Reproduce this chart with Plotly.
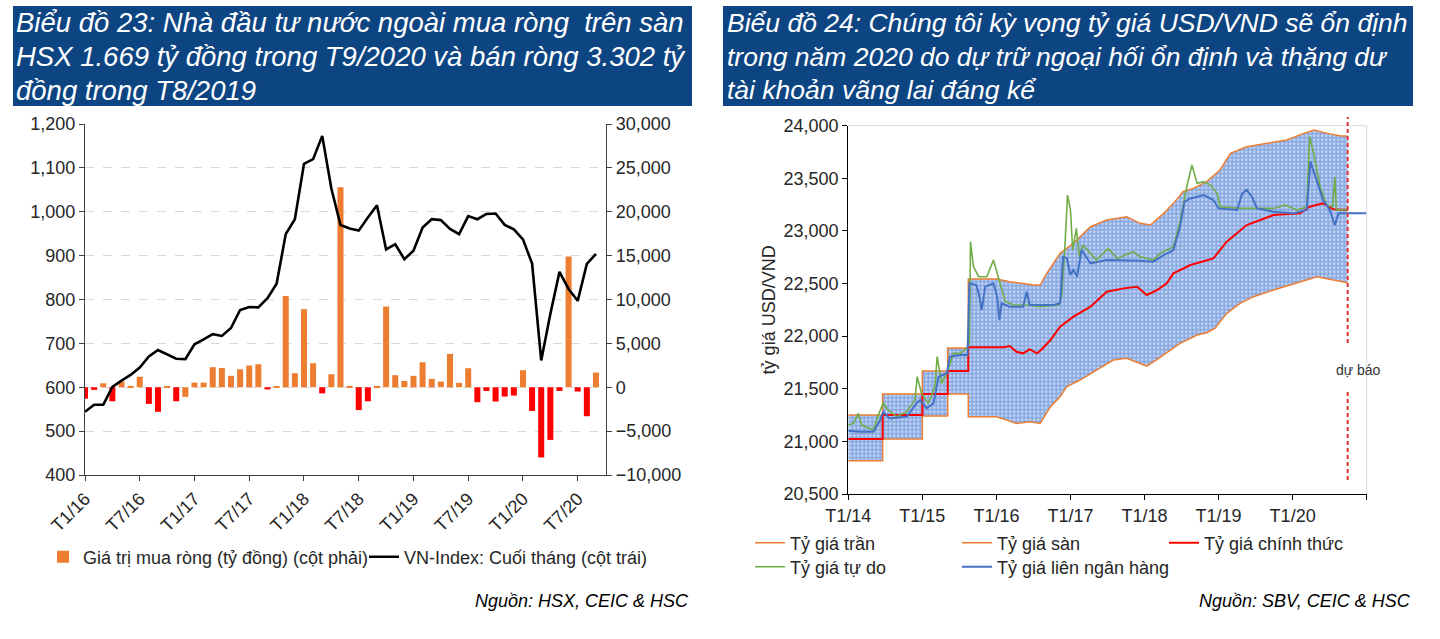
import plotly.graph_objects as go

W, H = 1440, 639

# ---------------- Chart 23 data (monthly, T1/16 .. T9/20) ----------------
tick_labels_23 = ['T1/16', 'T7/16', 'T1/17', 'T7/17', 'T1/18', 'T7/18',
                  'T1/19', 'T7/19', 'T1/20', 'T7/20']
net_buy = [-1300, -300, 450, -1600, 650, 150, 1200, -1900, -2800, 50, -1600, -1100,
           530, 530, 2280, 2200, 1300, 2050, 2470, 2620, -250, 100, 10400, 1600,
           8900, 2740, -700, 1480, 22800, 150, -2600, -1600, 150, 9200, 1370, 720,
           1300, 2850, 950, 650, 3800, 500, 2170, -1700, -420, -1630, -1060, -950,
           1940, -2700, -8000, -6000, -420, 14900, -490, -3302, 1669]
vn_index = [544, 560, 560, 601, 615, 628, 645, 670, 685, 675, 665, 664,
            698, 709, 721, 717, 735, 776, 783, 782, 803, 836, 949, 983,
            1109, 1120, 1173, 1053, 970, 962, 957, 987, 1015, 914, 926, 892,
            911, 964, 983, 981, 961, 949, 990, 983, 995, 996, 970, 960,
            937, 882, 661, 767, 863, 824, 797, 881, 904]
orange_negative_idx = [11]

# ---------------- Chart 24 data (decimal years) ----------------
year_ticks = [2014, 2015, 2016, 2017, 2018, 2019, 2020, 2021]
year_labels = ['T1/14', 'T1/15', 'T1/16', 'T1/17', 'T1/18', 'T1/19', 'T1/20', '']
forecast_x = 2020.743

tran_x = [2014.0, 2014.464, 2014.464, 2015.0, 2015.0, 2015.342, 2015.342, 2015.62, 2015.62, 2016.0,
          2016.18, 2016.32, 2016.5, 2016.59, 2016.68, 2016.86, 2017.04, 2017.27, 2017.49, 2017.76,
          2017.94, 2018.08, 2018.26, 2018.39, 2018.52, 2018.66, 2018.84, 2019.02, 2019.16, 2019.38,
          2019.65, 2019.92, 2020.15, 2020.29, 2020.47, 2020.65, 2020.743]
tran_y = [21250, 21250, 21450, 21450, 21669, 21669, 21887, 21887, 22543, 22543,
          22518, 22502, 22486, 22486, 22597, 22787, 22882, 23040, 23104, 23135,
          23072, 23056, 23167, 23262, 23373, 23404, 23468, 23579, 23737, 23800,
          23832, 23864, 23927, 23959, 23927, 23902, 23902]

san_x = [2014.0, 2014.464, 2014.464, 2015.0, 2015.0, 2015.342, 2015.342, 2015.62, 2015.62, 2016.0,
         2016.14, 2016.27, 2016.45, 2016.59, 2016.73, 2016.86, 2016.95, 2017.13, 2017.35, 2017.58,
         2017.76, 2017.94, 2018.03, 2018.17, 2018.35, 2018.48, 2018.71, 2018.84, 2018.95, 2019.11,
         2019.29, 2019.47, 2019.74, 2020.05, 2020.33, 2020.55, 2020.743]
san_y = [20816, 20816, 21022, 21022, 21241, 21241, 21450, 21450, 21234, 21234,
         21202, 21171, 21187, 21171, 21330, 21425, 21520, 21583, 21678, 21773,
         21789, 21741, 21716, 21780, 21868, 21932, 22011, 22033, 22074, 22217,
         22312, 22375, 22438, 22502, 22565, 22533, 22508]

chinh_x = [2014.0, 2014.464, 2014.464, 2015.0, 2015.0, 2015.342, 2015.342, 2015.62, 2015.62, 2016.0,
           2016.1, 2016.18, 2016.27, 2016.36, 2016.45, 2016.55, 2016.61, 2016.73, 2016.86, 2017.04,
           2017.27, 2017.49, 2017.72, 2017.90, 2018.03, 2018.17, 2018.30, 2018.39, 2018.62, 2018.93,
           2019.11, 2019.38, 2019.74, 2020.10, 2020.23, 2020.41, 2020.55, 2020.743]
chinh_y = [21022, 21022, 21250, 21250, 21450, 21450, 21669, 21669, 21894, 21894,
           21894, 21906, 21852, 21837, 21874, 21837, 21874, 21963, 22090, 22185,
           22280, 22423, 22454, 22470, 22391, 22438, 22502, 22597, 22676, 22739,
           22898, 23056, 23151, 23167, 23230, 23262, 23205, 23199]

tudo_x = [2014.0, 2014.07, 2014.135, 2014.18, 2014.34, 2014.405, 2014.47, 2014.54, 2014.65, 2014.79,
          2014.90, 2014.93, 2014.99, 2015.08, 2015.17, 2015.20, 2015.26, 2015.33, 2015.42, 2015.51,
          2015.60, 2015.635, 2015.65, 2015.69, 2015.76, 2015.87, 2015.96, 2016.05, 2016.12, 2016.23,
          2016.41, 2016.59, 2016.84, 2016.88, 2016.92, 2016.96, 2017.00, 2017.03, 2017.08, 2017.12,
          2017.17, 2017.35, 2017.51, 2017.63, 2017.85, 2017.94, 2018.12, 2018.21, 2018.39, 2018.48,
          2018.57, 2018.64, 2018.71, 2018.80, 2018.89, 2018.98, 2019.02, 2019.29, 2019.74, 2019.90,
          2020.06, 2020.19, 2020.23, 2020.28, 2020.37, 2020.46, 2020.54, 2020.57, 2020.59, 2020.743]
tudo_y = [21155, 21171, 21266, 21155, 21108, 21250, 21361, 21298, 21235, 21282,
          21393, 21615, 21456, 21361, 21520, 21805, 21551, 21646, 21836, 21836,
          21884, 21932, 22898, 22660, 22565, 22565, 22723, 22502, 22328, 22296,
          22296, 22280, 22296, 22375, 22787, 23341, 23199, 22818, 23024, 22755,
          22866, 22723, 22834, 22739, 22803, 22755, 22723, 22787, 22850, 23088,
          23420, 23626, 23452, 23468, 23436, 23357, 23230, 23214, 23214, 23246,
          23199, 23230, 23896, 23753, 23420, 23246, 23230, 23515, 23199, 23205]

lnh_x = [2014.0, 2014.16, 2014.34, 2014.43, 2014.47, 2014.56, 2014.79, 2014.92, 2014.97, 2015.06,
         2015.15, 2015.22, 2015.33, 2015.37, 2015.51, 2015.61, 2015.635, 2015.73, 2015.77, 2015.80,
         2015.85, 2015.96, 2016.01, 2016.04, 2016.07, 2016.18, 2016.36, 2016.41, 2016.45, 2016.77,
         2016.86, 2016.90, 2016.95, 2017.00, 2017.04, 2017.09, 2017.15, 2017.27, 2017.49, 2017.72,
         2017.94, 2018.12, 2018.26, 2018.39, 2018.48, 2018.54, 2018.62, 2018.80, 2018.93, 2019.00,
         2019.25, 2019.32, 2019.38, 2019.45, 2019.52, 2019.74, 2020.01, 2020.19, 2020.24, 2020.33,
         2020.41, 2020.50, 2020.57, 2020.62, 2020.73, 2021.0]
lnh_y = [21102, 21092, 21092, 21203, 21282, 21219, 21235, 21361, 21393, 21314,
         21361, 21615, 21646, 21805, 21821, 21821, 22502, 22486, 22375, 22248,
         22470, 22502, 22375, 22153, 22312, 22280, 22280, 22423, 22296, 22296,
         22312, 22755, 22740, 22581, 22628, 22565, 22818, 22692, 22723, 22723,
         22717, 22708, 22771, 22818, 23040, 23278, 23309, 23341, 23294, 23214,
         23199, 23357, 23389, 23325, 23214, 23183, 23167, 23199, 23658, 23468,
         23294, 23199, 23056, 23167, 23167, 23167]

# ---------------- styles ----------------
ORANGE = '#ED7D31'
RED = '#FF0000'
GREEN = '#70AD47'
BLUE = '#4472C4'
NAVY = '#0D4583'
FONT = 'Liberation Sans, Arial, sans-serif'


def px(xp):
    return xp / W


def py(yp):
    return 1 - yp / H


months = list(range(len(net_buy)))
is_orange = [(v >= 0 or i in orange_negative_idx) for i, v in enumerate(net_buy)]
orange_vals = [v if o else None for v, o in zip(net_buy, is_orange)]
red_vals = [None if o else v for v, o in zip(net_buy, is_orange)]

fig = go.Figure()

# Chart 23
fig.add_trace(go.Bar(x=months, y=orange_vals, marker=dict(color=ORANGE, line=dict(width=0)),
                     name='Giá trị mua ròng (tỷ đồng) (cột phải)', xaxis='x', yaxis='y',
                     legend='legend'))
fig.add_trace(go.Bar(x=months, y=red_vals, marker=dict(color=RED, line=dict(width=0)),
                     name='Giá trị mua ròng âm', showlegend=False, xaxis='x', yaxis='y'))
fig.add_trace(go.Scatter(x=months, y=vn_index, mode='lines', line=dict(color='black', width=2.6),
                         name='VN-Index: Cuối tháng (cột trái)', xaxis='x', yaxis='y2',
                         legend='legend'))

# Chart 24 band fill
band_x = tran_x + san_x[::-1]
band_y = tran_y + san_y[::-1]
fig.add_trace(go.Scatter(x=band_x, y=band_y, mode='lines', fill='toself', line=dict(width=0),
                         fillcolor='#9DB8E8',
                         fillpattern=dict(shape='.', fgcolor='#CFDCF4', bgcolor='#88A9E3',
                                          size=4, solidity=0.3, fillmode='replace'),
                         showlegend=False, hoverinfo='skip', xaxis='x2', yaxis='y3'))
fig.add_trace(go.Scatter(x=tran_x, y=tran_y, mode='lines', line=dict(color=ORANGE, width=1.5),
                         name='Tỷ giá trần', xaxis='x2', yaxis='y3', legend='legend2'))
fig.add_trace(go.Scatter(x=san_x, y=san_y, mode='lines', line=dict(color=ORANGE, width=1.5),
                         name='Tỷ giá sàn', xaxis='x2', yaxis='y3', legend='legend2'))
fig.add_trace(go.Scatter(x=chinh_x, y=chinh_y, mode='lines', line=dict(color=RED, width=2),
                         name='Tỷ giá chính thức', xaxis='x2', yaxis='y3', legend='legend2'))
fig.add_trace(go.Scatter(x=tudo_x, y=tudo_y, mode='lines', line=dict(color=GREEN, width=1.6),
                         name='Tỷ giá tự do', xaxis='x2', yaxis='y3', legend='legend3'))
fig.add_trace(go.Scatter(x=lnh_x, y=lnh_y, mode='lines', line=dict(color=BLUE, width=2),
                         name='Tỷ giá liên ngân hàng', xaxis='x2', yaxis='y3', legend='legend4'))

tick_font = dict(family=FONT, size=18, color='#262626')
legend_font = dict(family=FONT, size=18, color='#262626')

fig.update_layout(
    template='none',
    width=W, height=H, margin=dict(l=0, r=0, t=0, b=0, autoexpand=False),
    paper_bgcolor='white', plot_bgcolor='white',
    font=dict(family=FONT, color='#262626'),
    barmode='overlay', bargap=0.34,
    xaxis=dict(domain=[px(85), px(606)], range=[0, 57.1], anchor='y', automargin=False,
               tickvals=[0, 6, 12, 18, 24, 30, 36, 42, 48, 54], ticktext=tick_labels_23,
               tickangle=-45, ticks='outside', ticklen=5, tickcolor='#404040',
               showline=True, linecolor='#404040', linewidth=1.3, showgrid=False,
               zeroline=False, tickfont=tick_font),
    yaxis=dict(domain=[py(475), py(124)], range=[-10000, 30000], side='right', anchor='x',
               automargin=False,
               tickvals=[-10000, -5000, 0, 5000, 10000, 15000, 20000, 25000, 30000],
               tickformat=',', ticks='outside', ticklen=5, tickcolor='#404040',
               showline=True, linecolor='#404040', linewidth=1.3,
               showgrid=True, gridcolor='#D9D9D9', griddash='dash', gridwidth=1,
               zeroline=False, tickfont=tick_font),
    yaxis2=dict(range=[400, 1200], overlaying='y', side='left', anchor='x', automargin=False,
                tickvals=[400, 500, 600, 700, 800, 900, 1000, 1100, 1200], tickformat=',',
                ticks='outside', ticklen=5, tickcolor='#404040',
                showline=True, linecolor='#404040', linewidth=1.3, showgrid=False,
                zeroline=False, tickfont=tick_font),
    xaxis2=dict(domain=[px(848.3), px(1366.7)], range=[2014, 2021], anchor='y3',
                automargin=False,
                tickvals=year_ticks, ticktext=year_labels, tickangle=0,
                ticks='outside', ticklen=5, tickcolor='black',
                showline=True, linecolor='black', linewidth=1.3, showgrid=False,
                zeroline=False, tickfont=tick_font),
    yaxis3=dict(domain=[py(494), py(125.7)], range=[20500, 24000], anchor='x2',
                automargin=False,
                dtick=500, tickformat=',', ticks='outside', ticklen=5, tickcolor='black',
                showline=True, linecolor='black', linewidth=1.3, showgrid=False,
                zeroline=False, tickfont=tick_font,
                title=dict(text='tỷ giá USD/VND', font=dict(family=FONT, size=18, color='#262626'),
                           standoff=3)),
    legend=dict(orientation='h', x=px(43), y=py(557), xanchor='left', yanchor='middle',
                font=legend_font, entrywidth=276, entrywidthmode='pixels',
                bgcolor='rgba(0,0,0,0)', traceorder='normal'),
    legend2=dict(orientation='h', x=px(750), y=py(543), xanchor='left', yanchor='middle',
                 font=legend_font, entrywidth=162, entrywidthmode='pixels',
                 bgcolor='rgba(0,0,0,0)', traceorder='normal'),
    legend3=dict(orientation='h', x=px(750), y=py(567), xanchor='left', yanchor='middle',
                 font=legend_font, bgcolor='rgba(0,0,0,0)', traceorder='normal'),
    legend4=dict(orientation='h', x=px(957), y=py(567), xanchor='left', yanchor='middle',
                 font=legend_font, bgcolor='rgba(0,0,0,0)', traceorder='normal'),
)

shapes = [
    # title bars
    dict(type='rect', xref='paper', yref='paper', x0=px(13), x1=px(692), y0=py(106), y1=py(6),
         fillcolor=NAVY, line=dict(width=0), layer='below'),
    dict(type='rect', xref='paper', yref='paper', x0=px(723), x1=px(1413), y0=py(106), y1=py(6),
         fillcolor=NAVY, line=dict(width=0), layer='below'),
    # chart 24 plot-area border (top / right)
    dict(type='line', xref='x2 domain', yref='y3 domain', x0=0, x1=1, y0=1, y1=1,
         line=dict(color='#D9D9D9', width=1)),
    dict(type='line', xref='x2 domain', yref='y3 domain', x0=1, x1=1, y0=0, y1=1,
         line=dict(color='#D9D9D9', width=1)),
    # forecast line (two parts, gap for the label)
    dict(type='line', xref='x2', yref='paper', x0=forecast_x, x1=forecast_x, y0=py(343), y1=py(117),
         line=dict(color='#E03030', width=2, dash='4px,3px')),
    dict(type='line', xref='x2', yref='paper', x0=forecast_x, x1=forecast_x, y0=py(480), y1=py(390),
         line=dict(color='#E03030', width=2, dash='4px,3px')),
]
fig.update_layout(shapes=shapes)

left_title = ['Biểu đồ 23: Nhà đầu tư nước ngoài mua ròng  trên sàn',
              'HSX 1.669 tỷ đồng trong T9/2020 và bán ròng 3.302 tỷ',
              'đồng trong T8/2019']
right_title = ['Biểu đồ 24: Chúng tôi kỳ vọng tỷ giá USD/VND sẽ ổn định',
               'trong năm 2020 do dự trữ ngoại hối ổn định và thặng dư',
               'tài khoản vãng lai đáng kể']
line_y = [23, 57, 90]
ann = []
for t, yy in zip(left_title, line_y):
    ann.append(dict(text='<i>' + t + '</i>', xref='paper', yref='paper', x=px(14), y=py(yy),
                    xanchor='left', yanchor='middle', showarrow=False,
                    font=dict(family=FONT, size=27.5, color='white')))
for t, yy in zip(right_title, line_y):
    ann.append(dict(text='<i>' + t + '</i>', xref='paper', yref='paper', x=px(725), y=py(yy),
                    xanchor='left', yanchor='middle', showarrow=False,
                    font=dict(family=FONT, size=26.5, color='white')))
src_font = dict(family=FONT, size=18, color='black')
ann.append(dict(text='<i>Nguồn: HSX, CEIC & HSC</i>', xref='paper', yref='paper', x=px(691),
                y=py(601), xanchor='right', yanchor='middle', showarrow=False, font=src_font))
ann.append(dict(text='<i>Nguồn: SBV, CEIC & HSC</i>', xref='paper', yref='paper', x=px(1413),
                y=py(601), xanchor='right', yanchor='middle', showarrow=False, font=src_font))
ann.append(dict(text='dự báo', xref='x2', yref='paper', x=forecast_x, y=py(370), xshift=11,
                xanchor='center', yanchor='middle', showarrow=False,
                font=dict(family=FONT, size=14, color='#333333')))
fig.update_layout(annotations=ann)

fig.write_html('out.html')
